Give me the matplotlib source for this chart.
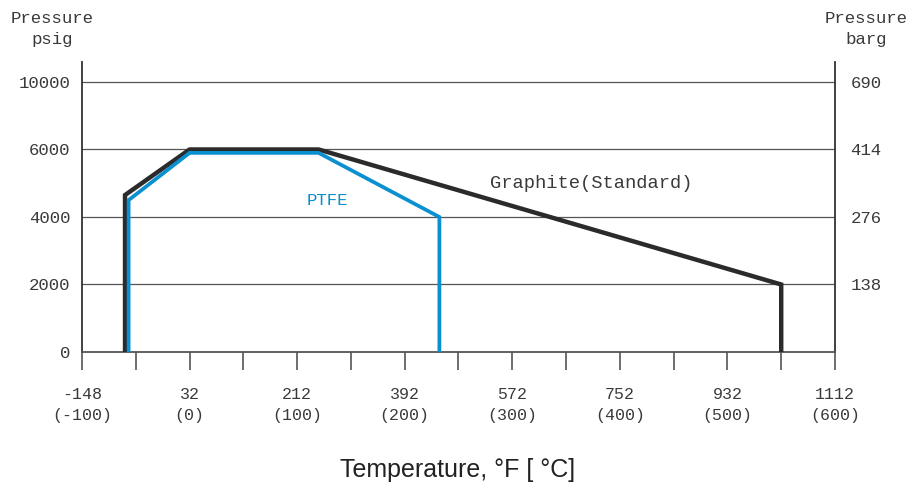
import numpy as np
import matplotlib
matplotlib.use("Agg")
import matplotlib.pyplot as plt

# pressure / temperature rating data
graphite_temp_f = [-76, -76, 32, 248, 1022, 1022]
graphite_psig = [0, 4650, 6000, 6000, 2000, 0]
ptfe_temp_f = [-70, -70, 32, 248, 450, 450]
ptfe_psig = [0, 4500, 5900, 5900, 4000, 0]

psig_ticks = [0, 2000, 4000, 6000, 10000]
barg_labels = ["", "138", "276", "414", "690"]
temp_f_ticks = [-148, 32, 212, 392, 572, 752, 932, 1112]
temp_c_ticks = [-100, 0, 100, 200, 300, 400, 500, 600]

MONO = "Liberation Mono"
GRAPHITE = "#2b2b2b"
PTFE = "#0a8fcf"
TXT = "#3a3a3a"

# the pressure axis is evenly spaced between the tick levels
lvl = np.array(psig_ticks, dtype=float)
pos = np.arange(len(lvl), dtype=float)


def fwd(v):
    v = np.asarray(v, dtype=float)
    out = np.interp(v, lvl, pos)
    out = np.where(v > lvl[-1], pos[-1] + (v - lvl[-1]) / 4000.0, out)
    return np.where(v < 0, v / 2000.0, out)


def inv(p):
    p = np.asarray(p, dtype=float)
    out = np.interp(p, pos, lvl)
    out = np.where(p > pos[-1], lvl[-1] + (p - pos[-1]) * 4000.0, out)
    return np.where(p < 0, p * 2000.0, out)


fig = plt.figure(figsize=(9.17, 4.88), dpi=100)
ax = fig.add_axes([82 / 917, 1 - 352 / 488, (835 - 82) / 917, (352 - 62) / 488])
ax.set_yscale("function", functions=(fwd, inv))
ax.set_xlim(-148, 1112)
ax.set_ylim(0, 11185)

for v in psig_ticks[1:]:
    ax.axhline(v, color="#555555", lw=0.9, zorder=1)

ax.plot(graphite_temp_f, graphite_psig, color=GRAPHITE, lw=3.2,
        solid_joinstyle="miter", zorder=3)
ax.plot(ptfe_temp_f, ptfe_psig, color=PTFE, lw=2.7,
        solid_joinstyle="miter", zorder=4)

ax.text(704, 4990, "Graphite(Standard)", family=MONO, fontsize=13.5,
        color=TXT, ha="center", va="center")
ax.text(262, 4500, "PTFE", family=MONO, fontsize=12.5,
        color=PTFE, ha="center", va="center")

# spines
ax.spines["top"].set_visible(False)
ax.spines["left"].set_color("#333333")
ax.spines["right"].set_color("#333333")
ax.spines["bottom"].set_color("#555555")
for s in ["left", "right", "bottom"]:
    ax.spines[s].set_linewidth(1.3)

# left axis
ax.set_yticks(psig_ticks)
ax.set_yticklabels([str(v) for v in psig_ticks], family=MONO, fontsize=12.5,
                   color=TXT)
ax.tick_params(axis="y", length=0, pad=8.5)
ax.yaxis.set_minor_locator(plt.NullLocator())

# right axis
ax2 = ax.twinx()
ax2.set_yscale("function", functions=(fwd, inv))
ax2.set_ylim(ax.get_ylim())
ax2.set_yticks(psig_ticks)
ax2.set_yticklabels(barg_labels, family=MONO, fontsize=12.5, color=TXT)
ax2.tick_params(axis="y", length=0, pad=11)
ax2.yaxis.set_minor_locator(plt.NullLocator())
for s in ["top", "left", "bottom", "right"]:
    ax2.spines[s].set_visible(False)

# temperature axis
ax.set_xticks(temp_f_ticks)
ax.set_xticklabels([f"{f}\n({c})" for f, c in zip(temp_f_ticks, temp_c_ticks)],
                   family=MONO, fontsize=12, color=TXT, linespacing=1.55)
ax.set_xticks(np.arange(-148 + 90, 1112, 180), minor=True)
ax.tick_params(axis="x", which="both", length=13, width=1.2,
               color="#555555", direction="out", pad=12)

fig.text(52 / 917, 1 - 29 / 488, "Pressure\npsig", family=MONO, fontsize=12.5,
         color=TXT, ha="center", va="center", linespacing=1.55)
fig.text(866 / 917, 1 - 29 / 488, "Pressure\nbarg", family=MONO, fontsize=12.5,
         color=TXT, ha="center", va="center", linespacing=1.55)
fig.text(458 / 917, 1 - 470 / 488, "Temperature, °F [ °C]",
         family=["Liberation Sans", "DejaVu Sans"],
         fontsize=18, color="#222222", ha="center", va="center")

fig.savefig("out.png", dpi=100)
